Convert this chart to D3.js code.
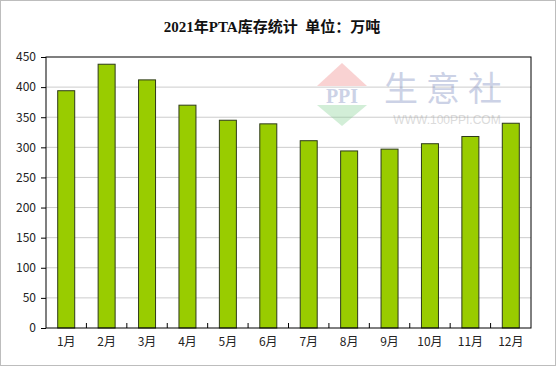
<!DOCTYPE html>
<html>
<head>
<meta charset="UTF-8">
<title>2021年PTA库存统计</title>
<style>
  body { margin: 0; background: #fff; }
  svg { display: block; }
</style>
</head>
<body>
<script src="https://d3js.org/d3.v7.min.js"></script>
<svg width="556" height="366"></svg>
<script>
    let svg = d3.select("svg"),
        width = +svg.attr("width"),
        height = +svg.attr("height");

    // monthly PTA inventory, 万吨
    let months = ['1月', '2月', '3月', '4月', '5月', '6月', '7月', '8月', '9月', '10月', '11月', '12月'];
    let stock = [394, 438, 412, 370, 345, 339, 311, 294, 297, 306, 318, 340];
    let y_ticks = [0, 50, 100, 150, 200, 250, 300, 350, 400, 450];

    let margin = { left: 46, right: 25, top: 57, bottom: 38 };
    let plot_w = width - margin.left - margin.right,
        plot_h = height - margin.top - margin.bottom;

    let font = '"Noto Sans CJK SC", "DejaVu Sans", sans-serif';

    // outer frame
    svg.append("rect")
        .attr("x", 0.5).attr("y", 0.5)
        .attr("width", width - 1).attr("height", height - 1)
        .attr("fill", "#fff").attr("stroke", "#bdbdbd");

    svg.append("text")
        .attr("x", width / 2 - 6).attr("y", 32)
        .attr("text-anchor", "middle")
        .attr("font-family", '"Liberation Serif", "Noto Sans CJK SC", serif')
        .attr("font-weight", "bold")
        .attr("font-size", 15)
        .attr("fill", "#111")
        .style("white-space", "pre")
        .text("2021年PTA库存统计  单位：万吨");

    let band = d3.scaleBand().domain(months).range([0, plot_w]);
    let y = d3.scaleLinear().domain([0, 450]).range([plot_h, 0]);

    let g = svg.append("g").attr("transform", `translate(${margin.left},${margin.top})`);

    // grid lines
    g.append("g").selectAll("line")
        .data(y_ticks.slice(1, -1)).enter()
        .append("line")
        .attr("x1", 0).attr("x2", plot_w)
        .attr("y1", d => y(d)).attr("y2", d => y(d))
        .attr("stroke", "#cccccc");

    // bars
    g.append("g").selectAll("rect")
        .data(stock).enter()
        .append("rect")
        .attr("x", (d, i) => band(months[i]) + band.bandwidth() / 2 - 8.5)
        .attr("y", d => y(d))
        .attr("width", 17)
        .attr("height", d => plot_h - y(d))
        .attr("fill", "#99cc00")
        .attr("stroke", "#2e3a1a")
        .attr("stroke-width", 1);

    // watermark, drawn over the bars
    let wm = svg.append("g").attr("opacity", 0.35);
    wm.append("path").attr("d", "M342,63 L367,86 L317,86 Z").attr("fill", "#f08080");
    wm.append("text").attr("x", 342).attr("y", 103).attr("text-anchor", "middle")
        .attr("font-family", '"Liberation Serif", serif').attr("font-weight", "bold")
        .attr("font-size", 20).attr("fill", "#6f7fb8").text("PPI");
    wm.append("path").attr("d", "M317,105 L367,105 L342,126 Z").attr("fill", "#80d090");
    wm.append("text").attr("x", 447).attr("y", 101).attr("text-anchor", "middle")
        .attr("font-family", font).attr("font-size", 34)
        .attr("letter-spacing", 8).attr("fill", "#6f7fb8").text("生意社");
    wm.append("text").attr("x", 447).attr("y", 124).attr("text-anchor", "middle")
        .attr("font-family", '"Liberation Sans", sans-serif').attr("font-size", 12)
        .attr("fill", "#999").text("WWW.100PPI.COM");

    // frame of the plot area
    g.append("rect")
        .attr("x", 0).attr("y", 0)
        .attr("width", plot_w).attr("height", plot_h)
        .attr("fill", "none").attr("stroke", "#000");

    // y axis
    let y_axis = g.append("g")
        .call(d3.axisLeft(y).tickValues(y_ticks).tickSize(5).tickPadding(5));
    y_axis.select(".domain").remove();
    y_axis.selectAll("line").attr("stroke", "#000");
    y_axis.selectAll("text").attr("font-family", font).attr("font-size", 12).attr("fill", "#222");

    // x axis, ticks between bars pointing up
    let x_axis = g.append("g")
        .attr("transform", `translate(0,${plot_h})`)
        .call(d3.axisBottom(band).tickSize(0).tickPadding(9));
    x_axis.select(".domain").remove();
    x_axis.selectAll("text").attr("font-family", font).attr("font-size", 12).attr("fill", "#222");
    g.append("g").selectAll("line")
        .data(months.slice(1)).enter()
        .append("line")
        .attr("x1", d => band(d)).attr("x2", d => band(d))
        .attr("y1", plot_h).attr("y2", plot_h - 5)
        .attr("stroke", "#000");
</script>
</body>
</html>
